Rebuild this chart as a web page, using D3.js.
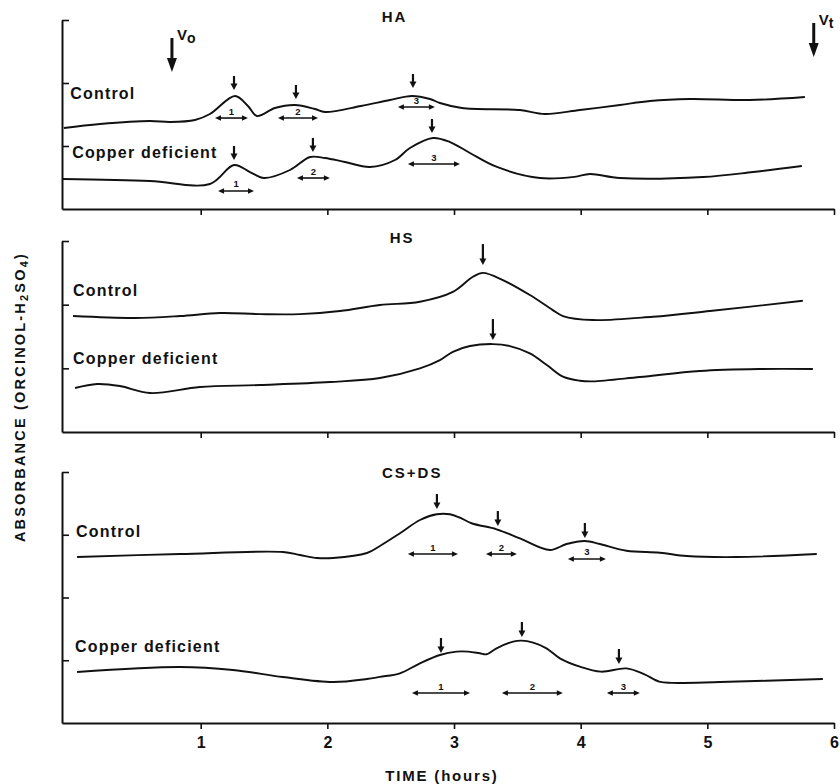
<!DOCTYPE html>
<html>
<head>
<meta charset="utf-8">
<script src="https://cdn.jsdelivr.net/npm/d3@7"></script>
<style>
  body { margin: 0; background: #fff; }
  text { font-family: "Liberation Sans", Arial, Helvetica, sans-serif; font-weight: bold; fill: #111; }
</style>
</head>
<body>
<script>
// ---------------- DATA (hours, arbitrary absorbance units) ----------------
const hourTicks = [1, 2, 3, 4, 5, 6];
const haYTicks = [1, 2, 3];
const hsYTicks = [1, 2, 3];
const csYTicks = [1, 2, 3, 4];

const haControl = [[-0.08,1.286],[0.205,1.349],[0.60,1.397],[0.758,1.381],[0.955,1.413],[1.073,1.508],[1.271,1.794],[1.373,1.635],[1.444,1.476],[1.586,1.603],[1.744,1.651],[1.902,1.587],[1.981,1.54],[2.265,1.635],[2.494,1.73],[2.668,1.794],[2.81,1.746],[2.889,1.683],[3.062,1.603],[3.52,1.571],[3.717,1.508],[3.994,1.571],[4.31,1.651],[4.546,1.714],[4.862,1.746],[5.335,1.73],[5.77,1.778]];
const haCopper = [[-0.087,0.476],[0.60,0.444],[1.073,0.397],[1.263,0.698],[1.389,0.587],[1.50,0.492],[1.705,0.619],[1.863,0.825],[1.981,0.81],[2.139,0.746],[2.337,0.667],[2.534,0.778],[2.652,0.968],[2.833,1.127],[2.968,1.063],[3.126,0.889],[3.339,0.667],[3.678,0.492],[3.95,0.51],[4.073,0.556],[4.31,0.492],[4.965,0.508],[5.36,0.587],[5.746,0.683]];
const hsControl = [[-0.008,1.821],[0.481,1.79],[0.837,1.821],[1.152,1.868],[1.468,1.852],[1.784,1.852],[2.099,1.9],[2.415,1.994],[2.731,2.046],[2.991,2.2],[3.149,2.438],[3.228,2.5],[3.386,2.386],[3.599,2.151],[3.78,1.915],[3.86,1.821],[4.096,1.758],[4.57,1.81],[5.02,1.9],[5.754,2.061]];
const hsCopper = [[0.008,0.691],[0.182,0.754],[0.363,0.722],[0.60,0.612],[0.994,0.706],[1.468,0.738],[2.02,0.785],[2.415,0.848],[2.731,1.0],[2.889,1.13],[2.991,1.26],[3.126,1.35],[3.307,1.381],[3.441,1.35],[3.599,1.236],[3.733,1.052],[3.86,0.868],[3.994,0.805],[4.096,0.795],[4.467,0.863],[4.941,0.958],[5.414,0.989],[5.833,0.989]];
const csControl = [[0.024,2.645],[0.837,2.693],[1.65,2.725],[1.784,2.677],[1.918,2.63],[2.044,2.63],[2.313,2.709],[2.415,2.821],[2.573,3.023],[2.731,3.235],[2.863,3.326],[2.968,3.326],[3.047,3.272],[3.139,3.183],[3.336,3.087],[3.52,2.943],[3.757,2.757],[3.889,2.853],[4.033,2.9],[4.152,2.853],[4.362,2.746],[4.625,2.714],[4.838,2.661],[5.233,2.645],[5.864,2.693]];
const csCopper = [[0.024,0.813],[0.837,0.892],[1.255,0.845],[1.65,0.733],[2.044,0.653],[2.313,0.701],[2.415,0.735],[2.573,0.792],[2.731,0.951],[2.889,1.084],[3.02,1.137],[3.112,1.137],[3.204,1.111],[3.257,1.095],[3.336,1.19],[3.467,1.296],[3.533,1.312],[3.625,1.28],[3.73,1.19],[3.836,1.03],[3.994,0.897],[4.16,0.818],[4.36,0.87],[4.5,0.78],[4.62,0.66],[4.72,0.64],[5.1,0.653],[5.912,0.701]];

// peak markers: [hours, tip value]
const haControlPeaks = [[1.263,1.889],[1.752,1.746],[2.676,1.921]];
const haCopperPeaks  = [[1.263,0.778],[1.886,0.905],[2.826,1.206]];
const hsControlPeaks = [[3.228,2.622]];
const hsCopperPeaks  = [[3.307,1.444]];
const csControlPeaks = [[2.865,3.41],[3.346,3.139],[4.033,2.948]];
const csCopperPeaks  = [[2.897,1.116],[3.536,1.371],[4.302,0.94]];

// fraction ranges: [from hours, to hours, level, label]
const haControlBands = [[1.113,1.373,1.444,"1"],[1.61,1.926,1.444,"2"],[2.557,2.849,1.619,"3"]];
const haCopperBands  = [[1.137,1.421,0.286,"1"],[1.76,2.02,0.492,"2"],[2.636,3.047,0.714,"3"]];
const csControlBands = [[2.636,3.031,2.693,"1"],[3.252,3.496,2.693,"2"],[3.899,4.199,2.614,"3"]];
const csCopperBands  = [[2.668,3.126,0.478,"1"],[3.378,3.859,0.478,"2"],[4.207,4.467,0.478,"3"]];

// void / total volume markers: hours, top, tip (HA panel units)
const volumeMarkers = [{name:"V", sub:"o", h:0.773, top:2.714, tip:2.175},
                       {name:"V", sub:"t", h:5.84, top:2.952, tip:2.413}];

const seriesNames = ["Control", "Copper deficient"];

// ---------------- LAYOUT ----------------
const W = 840, H = 784;
const svg = d3.select("body").append("svg").attr("width", W).attr("height", H);
const x = d3.scaleLinear().domain([-0.095, 6]).range([62, 834]);

const panels = [
  {title:"HA", yMax:3, top:20, bottom:209, yTicks:haYTicks, titleH:2.53, titleV:2.97,
   series:[haControl, haCopper], peaks:[haControlPeaks, haCopperPeaks], bands:[haControlBands, haCopperBands],
   labelH:[-0.03,-0.015], labelV:[1.746,0.81], arrowLen:14, labels:false},
  {title:"HS", yMax:3, top:241, bottom:432, yTicks:hsYTicks, titleH:2.59, titleV:2.97,
   series:[hsControl, hsCopper], peaks:[hsControlPeaks, hsCopperPeaks], bands:[[],[]],
   labelH:[-0.008,-0.008], labelV:[2.135,1.068], arrowLen:21, labels:false},
  {title:"CS+DS", yMax:4, top:472, bottom:723, yTicks:csYTicks, titleH:2.67, titleV:3.9,
   series:[csControl, csCopper], peaks:[csControlPeaks, csCopperPeaks], bands:[csControlBands, csCopperBands],
   labelH:[0.016,0.008], labelV:[2.964,1.131], arrowLen:15, labels:true}
];

const line = d3.line().x(d => x(d[0])).y(d => d[1]).curve(d3.curveCatmullRom.alpha(0.5));

panels.forEach((p, pi) => {
  const y = d3.scaleLinear().domain([0, p.yMax]).range([p.bottom, p.top]);
  p.y = y;
  const g = svg.append("g");

  // x axis
  const xa = d3.axisBottom(x).tickValues(hourTicks).tickSize(6).tickSizeOuter(0)
    .tickFormat(p.labels ? d3.format("d") : "");
  const xg = g.append("g").attr("transform", `translate(0,${p.bottom})`).call(xa);
  xg.select(".domain").attr("stroke", "#111").attr("stroke-width", 2);
  xg.selectAll(".tick line").attr("stroke", "#111").attr("stroke-width", 1.6);
  xg.selectAll(".tick text").attr("font-size", 16).attr("dy", "1.0em").attr("fill", "#111")
    .style("font-family", '"Liberation Sans", Arial, sans-serif').style("font-weight", "bold");

  // y axis (ticks pointing inward)
  const ya = d3.axisLeft(y).tickValues(p.yTicks).tickSize(-7).tickSizeOuter(0).tickFormat("");
  const yg = g.append("g").attr("transform", `translate(${x(-0.095)},0)`).call(ya);
  yg.select(".domain").attr("stroke", "#111").attr("stroke-width", 2);
  yg.selectAll(".tick line").attr("stroke", "#111").attr("stroke-width", 1.6);

  // title
  g.append("text").attr("x", x(p.titleH)).attr("y", y(p.titleV)).attr("text-anchor", "middle")
    .attr("font-size", 15).attr("letter-spacing", 2).text(p.title);

  // curves
  p.series.forEach((s, si) => {
    g.append("path").datum(s.map(d => [d[0], y(d[1])])).attr("d", line)
      .attr("fill", "none").attr("stroke", "#111").attr("stroke-width", 1.9).attr("stroke-linejoin", "round");
    g.append("text").attr("x", x(p.labelH[si])).attr("y", y(p.labelV[si]))
      .attr("font-size", 16).attr("letter-spacing", 1.2).text(seriesNames[si]);
  });

  // peak arrows
  p.peaks.forEach(list => list.forEach(d => {
    const px = x(d[0]), tip = y(d[1]);
    g.append("line").attr("x1", px).attr("x2", px).attr("y1", tip - p.arrowLen).attr("y2", tip - 5)
      .attr("stroke", "#111").attr("stroke-width", 2.2);
    g.append("path").attr("d", `M${px-3.5},${tip-6.5}L${px+3.5},${tip-6.5}L${px},${tip}Z`).attr("fill", "#111");
  }));

  // fraction ranges (double-headed)
  p.bands.forEach(list => list.forEach(d => {
    const x1 = x(d[0]), x2 = x(d[1]), yy = y(d[2]);
    g.append("line").attr("x1", x1 + 2).attr("x2", x2 - 2).attr("y1", yy).attr("y2", yy)
      .attr("stroke", "#111").attr("stroke-width", 1.6);
    g.append("path").attr("d", `M${x1},${yy}L${x1+6},${yy-2.8}L${x1+6},${yy+2.8}Z`).attr("fill", "#111");
    g.append("path").attr("d", `M${x2},${yy}L${x2-6},${yy-2.8}L${x2-6},${yy+2.8}Z`).attr("fill", "#111");
    g.append("text").attr("x", (x1 + x2) / 2).attr("y", yy - 3.5).attr("text-anchor", "middle")
      .attr("font-size", 9.5).text(d[3]);
  }));
});

// void / total volume arrows on HA panel
const yHA = panels[0].y;
volumeMarkers.forEach(m => {
  const px = x(m.h), top = yHA(m.top), tip = yHA(m.tip);
  svg.append("line").attr("x1", px).attr("x2", px).attr("y1", top).attr("y2", tip - 12)
    .attr("stroke", "#111").attr("stroke-width", 3);
  svg.append("path").attr("d", `M${px-5},${tip-14}L${px+5},${tip-14}L${px},${tip}Z`).attr("fill", "#111");
  const t = svg.append("text").attr("x", px + 5).attr("y", top + 2).attr("font-size", 15);
  t.append("tspan").text(m.name);
  t.append("tspan").attr("dy", 3).attr("font-size", 14).text(m.sub);
});

// axis titles
const yl = svg.append("text").attr("transform", "translate(25,397) rotate(-90)")
  .attr("text-anchor", "middle").attr("font-size", 14.5).attr("letter-spacing", 2.2);
yl.append("tspan").text("ABSORBANCE (ORCINOL-H");
yl.append("tspan").attr("dy", 3).attr("font-size", 11).text("2");
yl.append("tspan").attr("dy", -3).text("SO");
yl.append("tspan").attr("dy", 3).attr("font-size", 11).text("4");
yl.append("tspan").attr("dy", -3).text(")");

svg.append("text").attr("x", 442).attr("y", 781).attr("text-anchor", "middle")
  .attr("font-size", 15).attr("letter-spacing", 1.8).text("TIME (hours)");
</script>
</body>
</html>
